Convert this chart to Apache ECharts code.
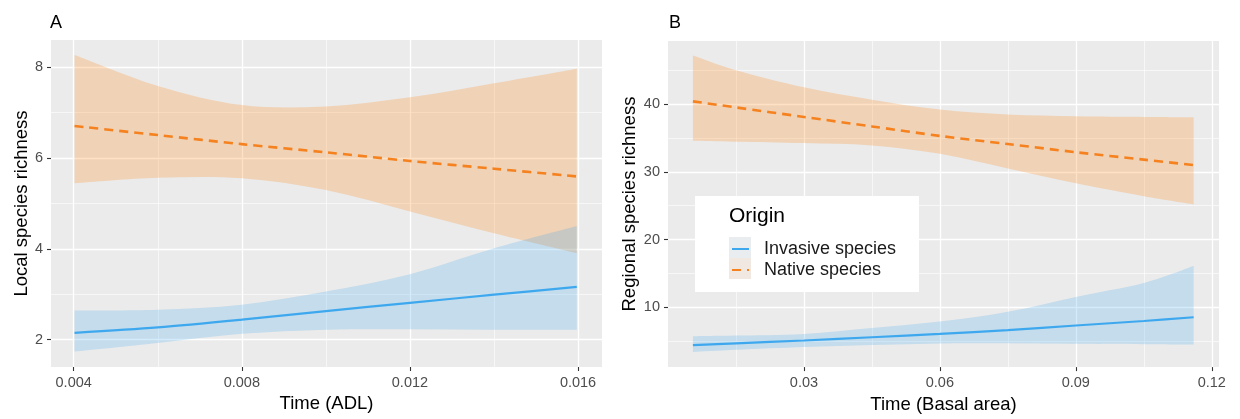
<!DOCTYPE html>
<html>
<head>
<meta charset="utf-8">
<script src="https://cdn.jsdelivr.net/npm/echarts@6/dist/echarts.min.js"></script>
<style>
html, body { margin: 0; padding: 0; background: #fff; }
#chart { width: 1240px; height: 419px; }
</style>
</head>
<body>
<div id="chart"></div>
<script>
// panel A - local richness vs ADL
var adlX = [0.00402, 0.006, 0.008, 0.010, 0.012, 0.014, 0.01597];
var nativeFitA = [6.70, 6.50, 6.30, 6.12, 5.93, 5.76, 5.59];
var nativeHiA = [8.26, 7.58, 7.16, 7.13, 7.33, 7.64, 7.96];
var nativeLoA = [5.44, 5.56, 5.55, 5.29, 4.82, 4.34, 3.90];
var invasiveFitA = [2.15, 2.27, 2.44, 2.63, 2.81, 2.99, 3.16];
var invasiveHiA = [2.64, 2.66, 2.77, 3.06, 3.44, 4.01, 4.50];
var invasiveLoA = [1.74, 1.93, 2.13, 2.22, 2.23, 2.22, 2.22];
var adlTicks = [0.004, 0.008, 0.012, 0.016];
var adlMinor = [0.006, 0.010, 0.014];
var localTicks = [2, 4, 6, 8];
var localMinor = [3, 5, 7];

// panel B - regional richness vs basal area
var basalX = [0.0055, 0.015, 0.03, 0.045, 0.06, 0.075, 0.09, 0.105, 0.116];
var nativeFitB = [40.4, 39.5, 38.1, 36.7, 35.3, 34.1, 32.9, 31.8, 31.0];
var nativeHiB = [47.15, 44.98, 42.46, 40.63, 39.18, 38.45, 38.2, 38.1, 38.07];
var nativeLoB = [34.6, 34.45, 34.25, 33.9, 32.66, 30.5, 28.3, 26.4, 25.2];
var invasiveFitB = [4.44, 4.70, 5.12, 5.60, 6.09, 6.65, 7.34, 8.00, 8.55];
var invasiveHiB = [5.75, 5.85, 6.09, 6.96, 7.92, 9.37, 11.55, 13.6, 16.1];
var invasiveLoB = [3.43, 3.75, 4.15, 4.45, 4.69, 4.70, 4.64, 4.58, 4.54];
var basalTicks = [0.03, 0.06, 0.09, 0.12];
var basalMinor = [0.015, 0.045, 0.075, 0.105];
var regionalTicks = [10, 20, 30, 40];
var regionalMinor = [5, 15, 25, 35, 45];

var FONT = '"Liberation Sans", Arial, Helvetica, sans-serif';
var BLUE = '#3ea8ef';
var ORANGE = '#f5821f';
var BLUE_BAND = 'rgba(70,170,240,0.24)';
var ORANGE_BAND = 'rgba(255,140,30,0.26)';

function pairs(xs, ys) {
    return xs.map(function (x, i) { return [x, ys[i]]; });
}

// cubic bezier segments through pixel points (catmull-rom style)
function curve(pts) {
    var s = '';
    for (var i = 0; i < pts.length - 1; i++) {
        var p0 = pts[Math.max(i - 1, 0)], p1 = pts[i], p2 = pts[i + 1], p3 = pts[Math.min(i + 2, pts.length - 1)];
        var c1 = [p1[0] + (p2[0] - p0[0]) / 6, p1[1] + (p2[1] - p0[1]) / 6];
        var c2 = [p2[0] - (p3[0] - p1[0]) / 6, p2[1] - (p3[1] - p1[1]) / 6];
        s += ' C' + c1.join(' ') + ' ' + c2.join(' ') + ' ' + p2.join(' ');
    }
    return s;
}

// confidence ribbon as one filled path, coords from the axes
function band(grid, xs, lo, hi, color) {
    return {
        type: 'custom', xAxisIndex: grid, yAxisIndex: grid, silent: true, z: 2,
        data: xs.map(function (x, i) { return [x, lo[i], hi[i]]; }),
        encode: { x: 0, y: [1, 2] },
        renderItem: function (params, api) {
            if (params.dataIndex !== 0) return;
            var up = xs.map(function (x, i) { return api.coord([x, hi[i]]); });
            var dn = xs.map(function (x, i) { return api.coord([x, lo[i]]); }).reverse();
            var d = 'M' + up[0].join(' ') + curve(up) + ' L' + dn[0].join(' ') + curve(dn) + ' Z';
            return { type: 'path', shape: { pathData: d }, style: { fill: color } };
        }
    };
}

function fit(name, grid, xs, ys, color, dashed) {
    return {
        type: 'line', name: name, xAxisIndex: grid, yAxisIndex: grid,
        data: pairs(xs, ys), symbol: 'none', smooth: 0.3, z: 3,
        lineStyle: { color: color, width: dashed ? 2.6 : 2.2, type: dashed ? [9, 6] : 'solid' },
        itemStyle: { color: color }
    };
}

// white panel grid, drawn under the ribbons
function gridLines(grid, xMajor, xMinor, yMajor, yMinor) {
    var d = [];
    xMajor.forEach(function (v) { d.push({ xAxis: v, lineStyle: { width: 1.3 } }); });
    xMinor.forEach(function (v) { d.push({ xAxis: v, lineStyle: { width: 0.6 } }); });
    yMajor.forEach(function (v) { d.push({ yAxis: v, lineStyle: { width: 1.3 } }); });
    yMinor.forEach(function (v) { d.push({ yAxis: v, lineStyle: { width: 0.6 } }); });
    return {
        type: 'line', name: 'grid' + grid, xAxisIndex: grid, yAxisIndex: grid, data: [],
        silent: true, z: 1,
        markLine: {
            z: 1, silent: true, precision: 6, symbol: ['none', 'none'], label: { show: false },
            lineStyle: { color: '#ffffff', type: 'solid' },
            emphasis: { disabled: true },
            data: d
        }
    };
}

function xAxis(grid, min, max, ticks, digits, name) {
    return {
        type: 'value', gridIndex: grid, min: min, max: max,
        axisLine: { show: false },
        axisTick: { show: true, length: 4, customValues: ticks, lineStyle: { color: '#333333', width: 1.1 } },
        axisLabel: {
            customValues: ticks, margin: 8, color: '#4d4d4d', fontSize: 14.5, fontFamily: FONT,
            formatter: function (v) { return v.toFixed(digits); }
        },
        splitLine: { show: false },
        name: name, nameLocation: 'middle', nameGap: 26,
        nameTextStyle: { fontSize: 18.5, color: '#000', fontFamily: FONT }
    };
}

function yAxis(grid, min, max, ticks, name, gap) {
    return {
        type: 'value', gridIndex: grid, min: min, max: max,
        axisLine: { show: false },
        axisTick: { show: true, length: 4, customValues: ticks, lineStyle: { color: '#333333', width: 1.1 } },
        axisLabel: { customValues: ticks, margin: 8, color: '#4d4d4d', fontSize: 14.5, fontFamily: FONT },
        splitLine: { show: false },
        name: name, nameLocation: 'middle', nameGap: gap, nameRotate: 90,
        nameTextStyle: { fontSize: 18.5, color: '#000', fontFamily: FONT }
    };
}

var series = [
    gridLines(0, adlTicks, adlMinor, localTicks, localMinor),
    band(0, adlX, nativeLoA, nativeHiA, ORANGE_BAND),
    band(0, adlX, invasiveLoA, invasiveHiA, BLUE_BAND),
    fit('Native species', 0, adlX, nativeFitA, ORANGE, true),
    fit('Invasive species', 0, adlX, invasiveFitA, BLUE, false),
    gridLines(1, basalTicks, basalMinor, regionalTicks, regionalMinor),
    band(1, basalX, nativeLoB, nativeHiB, ORANGE_BAND),
    band(1, basalX, invasiveLoB, invasiveHiB, BLUE_BAND),
    fit('Native species', 1, basalX, nativeFitB, ORANGE, true),
    fit('Invasive species', 1, basalX, invasiveFitB, BLUE, false)
];

var option = {
    animation: false,
    backgroundColor: '#ffffff',
    textStyle: { fontFamily: FONT },
    title: [
        { text: 'A', left: 50, top: 14, padding: 0, textStyle: { fontSize: 18, fontWeight: 'normal', color: '#000', fontFamily: FONT } },
        { text: 'B', left: 669, top: 14, padding: 0, textStyle: { fontSize: 18, fontWeight: 'normal', color: '#000', fontFamily: FONT } },
        { text: 'Origin', left: 729, top: 206, padding: 0, textStyle: { fontSize: 21, fontWeight: 'normal', color: '#000', fontFamily: FONT } }
    ],
    grid: [
        { left: 51, right: 638, top: 40, height: 327, show: true, backgroundColor: '#ebebeb', borderWidth: 0 },
        { left: 668, right: 21, top: 41, height: 332, show: true, backgroundColor: '#ebebeb', borderWidth: 0 }
    ],
    xAxis: [
        xAxis(0, 0.00346, 0.01657, adlTicks, 3, 'Time (ADL)'),
        xAxis(1, 0, 0.1216, basalTicks, 2, 'Time (Basal area)')
    ],
    yAxis: [
        yAxis(0, 1.40, 8.59, localTicks, 'Local species richness', 15),
        yAxis(1, 1.2, 49.3, regionalTicks, 'Regional species richness', 29)
    ],
    legend: {
        orient: 'vertical', left: 731, top: 240, padding: 0, itemGap: 3,
        itemWidth: 17, itemHeight: 21, z: 5,
        itemStyle: { opacity: 0 },
        data: ['Invasive species', 'Native species'],
        textStyle: { fontSize: 18, color: '#1a1a1a', fontFamily: FONT, padding: [0, 0, 0, 10] }
    },
    graphic: [
        { type: 'rect', z: 3, shape: { x: 695, y: 196, width: 224, height: 96 }, style: { fill: '#ffffff' } },
        { type: 'rect', z: 4, shape: { x: 729, y: 237, width: 22, height: 21 }, style: { fill: '#e9edf0' } },
        { type: 'rect', z: 4, shape: { x: 729, y: 258, width: 22, height: 21 }, style: { fill: '#f0e8e1' } }
    ],
    series: series
};

var chart = echarts.init(document.getElementById('chart'));
chart.setOption(option);
window.addEventListener('resize', function () { chart.resize(); });
</script>
</body>
</html>
